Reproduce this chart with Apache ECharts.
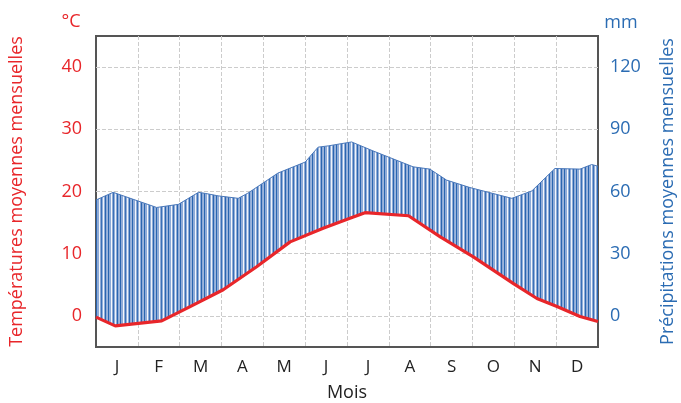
<!DOCTYPE html>
<html><head><meta charset="utf-8">
<script src="https://cdn.jsdelivr.net/npm/echarts@6/dist/echarts.min.js"></script>
<style>html,body{margin:0;padding:0;background:#fff}#c{width:681px;height:403px}</style>
</head><body><div id="c"></div>
<script>
// ---- data ----
const months = ['J','F','M','A','M','J','J','A','S','O','N','D'];
const tempMonth = [0,0.46,1.57,2.25,3.04,3.84,4.64,5.43,6.07,6.43,7.47,8.23,9.02,9.98,10.54,11.02,11.57,12];
const tempValue = [-0.2,-1.6,-0.8,1.5,4.2,7.9,11.9,14.1,15.7,16.6,16.1,12.7,9.5,5.2,2.8,1.5,-0.1,-0.9];
const precipMonth = [0,0.41,1.45,1.97,2.45,2.61,2.92,3.40,3.63,4.35,5.00,5.31,5.55,6.11,6.62,7.58,7.98,8.38,8.94,9.94,10.42,10.97,11.57,11.85,12];
const precipValue = [55.9,59.6,52.3,53.8,59.6,59.1,57.9,56.7,59.2,68.9,74.2,81.4,82.0,83.9,79.6,71.9,70.8,65.5,61.9,56.7,60.3,71.1,70.8,73.0,72.2];
const MM_PER_DEG = 3; // 10 °C on the left axis = 30 mm on the right axis
const tempRange = [-5, 45];

// ---- styling ----
const FONT = '"Open Sans", "Noto Sans", sans-serif';
const RED = '#e8262a';
const BLUE = '#2b6cb3';

const pc = document.createElement('canvas');
pc.width = 12; pc.height = 4;
const pctx = pc.getContext('2d');
['#2a65b0','#8fabd8','#8fabd8','#f4f7fb','#8fabd8','#3a70b6','#93aed9','#eef3fa','#8fabd8','#2a65b0','#8fabd8','#9cb5dc']
  .forEach((c, i) => { pctx.fillStyle = c; pctx.fillRect(i, 0, 1, 4); });

const chart = echarts.init(document.getElementById('c'));
const gridLine = { show: true, showMinLine: false, showMaxLine: false, lineStyle: { color: '#cccccc', type: 'dashed', width: 1 } };

chart.setOption({
  animation: false,
  grid: { left: 96, top: 36, width: 502, height: 311, outerBoundsMode: 'none', containLabel: false,
          show: true, borderColor: '#555', borderWidth: 2, backgroundColor: 'transparent' },
  xAxis: [
    { type: 'value', min: 0, max: 12, interval: 1, axisLabel: { show: false }, axisTick: { show: false }, axisLine: { show: false }, splitLine: gridLine },
    { type: 'category', data: months, boundaryGap: true, position: 'bottom',
      axisLine: { show: false }, axisTick: { show: false }, splitLine: { show: false },
      axisLabel: { interval: 0, color: '#222', fontSize: 17, margin: 12, fontFamily: FONT },
      name: 'Mois', nameLocation: 'middle', nameGap: 37,
      nameTextStyle: { color: '#222', fontSize: 18, fontFamily: FONT } }
  ],
  yAxis: [
    { type: 'value', min: tempRange[0], max: tempRange[1], splitNumber: 5, position: 'left',
      axisLine: { show: false }, axisTick: { show: false }, splitLine: gridLine,
      axisLabel: { color: RED, fontSize: 18, margin: 14, fontFamily: FONT, showMinLabel: false, showMaxLabel: false },
      name: 'Températures moyennes mensuelles', nameLocation: 'middle', nameRotate: 90, nameGap: 70,
      nameTextStyle: { color: RED, fontSize: 18, fontFamily: FONT } },
    { type: 'value', min: tempRange[0] * MM_PER_DEG, max: tempRange[1] * MM_PER_DEG, splitNumber: 5, position: 'right',
      axisLine: { show: false }, axisTick: { show: false }, splitLine: { show: false },
      axisLabel: { color: BLUE, fontSize: 18, margin: 12, fontFamily: FONT, showMinLabel: false, showMaxLabel: false, padding: [0, 0, 6, 0] },
      name: 'Précipitations moyennes mensuelles', nameLocation: 'middle', nameRotate: 90, nameGap: 61,
      nameTextStyle: { color: BLUE, fontSize: 18, fontFamily: FONT } }
  ],
  graphic: [
    { type: 'text', x: 71, y: 22, style: { text: '°C', fill: RED, font: '18px ' + FONT, align: 'center', verticalAlign: 'middle', textAlign: 'center', textVerticalAlign: 'middle' } },
    { type: 'text', x: 621, y: 23, style: { text: 'mm', fill: BLUE, font: '18px ' + FONT, align: 'center', verticalAlign: 'middle', textAlign: 'center', textVerticalAlign: 'middle' } }
  ],
  series: [
    { type: 'custom', xAxisIndex: 0, yAxisIndex: 0, data: [0], z: 2, silent: true,
      renderItem: function (params, api) {
        const pts = [];
        precipMonth.forEach((m, i) => pts.push(api.coord([m, precipValue[i] / MM_PER_DEG])));
        for (let i = tempMonth.length - 1; i >= 0; i--) pts.push(api.coord([tempMonth[i], tempValue[i]]));
        return { type: 'polygon', shape: { points: pts }, style: { fill: { image: pc, repeat: 'repeat' } } };
      } },
    { type: 'line', xAxisIndex: 0, yAxisIndex: 1, z: 3, symbol: 'none', silent: true,
      data: precipMonth.map((m, i) => [m, precipValue[i]]),
      lineStyle: { color: '#4a78ba', width: 1 } },
    { type: 'line', xAxisIndex: 0, yAxisIndex: 0, z: 4, symbol: 'none', silent: true,
      data: tempMonth.map((m, i) => [m, tempValue[i]]),
      lineStyle: { color: RED, width: 3.2 } }
  ]
});
</script></body></html>
